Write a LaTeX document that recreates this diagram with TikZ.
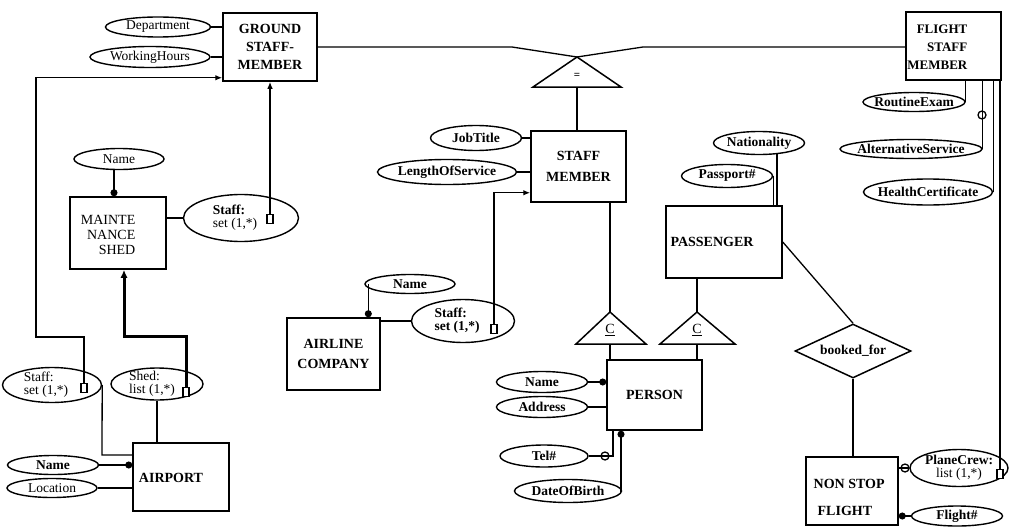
\documentclass[tikz,border=0pt]{standalone}
\usepackage{fontspec}
\setmainfont{Liberation Serif}
\usetikzlibrary{shapes.geometric,arrows.meta,calc}
\begin{document}
\begin{tikzpicture}[x=1pt,y=-1pt, line width=1.3pt,
  sz/.style 2 args={minimum width=#1pt, minimum height=#2pt},
  ent/.style={draw, line width=1.5pt, rectangle, inner sep=0pt, align=center,
    font=\fontsize{14}{18}\selectfont\bfseries},
  btxt/.style={inner sep=0pt, font=\fontsize{14}{18}\selectfont\bfseries},
  att/.style={draw, ellipse, line width=1.4pt, inner xsep=-15pt, inner ysep=-3pt,
    align=center, font=\fontsize{13.5}{13}\selectfont},
  attb/.style={att, font=\fontsize{13.5}{13}\selectfont\bfseries},
  sq/.style={draw, fill=white, rectangle, minimum width=6pt, minimum height=9pt,
    inner sep=0pt, line width=1.3pt},
  ocirc/.style={draw, circle, minimum size=8pt, inner sep=0pt, line width=1.3pt},
  arr/.style={-{Latex[length=7pt,width=5.5pt]}},
  thickarr/.style={line width=3pt, -{Latex[length=8pt,width=7pt]}},
  dotend/.style={-{Circle[length=7pt]}},
  tri/.style={line width=1.5pt, line join=miter}
]
\useasboundingbox (0,0) rectangle (1011,527);

% ---------- GROUND STAFF MEMBER ----------
\node[ent, sz={94}{68}] (gsm) at (270,47) {GROUND\\STAFF-\\MEMBER};
\node[att, sz={105}{20}] (dept) at (158,27) {Department};
\node[att, sz={120}{21}] (wh) at (150,57) {WorkingHours};
\draw (dept.east) -- (dept.east -| gsm.west);
\draw (wh.east) -- (wh.east -| gsm.west);

% ---------- MAINTENANCE SHED ----------
\node[ent, sz={96}{72}] (mshed) at (118,233) {};
\node[btxt, font=\fontsize{14}{15}\selectfont, align=right, anchor=east] (mshedt) at (136,235) {MAINTE\\NANCE\\SHED};
\node[att, sz={90}{21}] (mname) at (119,159) {Name};
\draw[dotend] ([xshift=-5pt]mname.south) -- ([xshift=-5pt]mname.south |- mshed.north);
\node[att, sz={115}{47}, align=left] (mstaff) at (241,218) {\textbf{Staff:}\\set (1,*)\hspace*{12pt}};
\node[sq] (mstaffsq) at (270,219) {};
\draw (mshed.east |- mstaff.west) -- (mstaff.west);
\draw[arr] (mstaffsq.north) -- (mstaffsq.north |- gsm.south);

% ---------- AIRPORT ----------
\node[ent, sz={96}{68}] (airport) at (181,477) {};
\node[btxt] (airportt) at (171,478) {AIRPORT};
\node[att, sz={99}{35}, align=left] (astaff) at (52,385) {Staff:\\set (1,*)\hspace*{12pt}};
\node[sq] (astaffsq) at (84,388) {};
\node[att, sz={92}{32}, align=left] (ashed) at (157,384) {Shed:\\list (1,*)\hspace*{10pt}};
\node[sq] (ashedsq) at (186,392) {};
\node[attb, sz={91}{19}] (aname) at (53,465) {Name};
\node[att, sz={90}{19}] (aloc) at (52,488) {Location};
\coordinate (b4) at (102,455);
\draw (astaff.east) -- (b4) -- (b4 -| airport.west);
\draw (ashed.south) -- (ashed.south |- airport.north);
\draw[dotend] (aname.east) -- (aname.east -| airport.west);
\draw (aloc.east) -- (aloc.east -| airport.west);

\coordinate (b1) at (36,337);
\draw[arr] (astaffsq.north) |- (b1) |- ($(gsm.south west)+(0,-4)$);
\coordinate (b3) at (124,336);
\draw[thickarr] (ashedsq.north) |- (b3) -- (b3 |- mshed.south);

% ---------- "=" triangle ----------
\coordinate (eqa) at (577,57);
\coordinate (eql) at (533,87);
\coordinate (eqr) at (621,87);
\coordinate (eqb) at (577,87);
\draw[tri] (eqa) -- (eql) -- (eqr) -- cycle;
\node[inner sep=0pt, font=\fontsize{11}{11}\selectfont\bfseries] (eqlab) at (577,76) {=};

% ---------- FLIGHT STAFF MEMBER ----------
\node[ent, sz={95}{68}] (fsm) at (953.5,46) {};
\node[btxt, font=\fontsize{13}{18}\selectfont\bfseries, align=right, anchor=east] (fsmt) at (968,47) {FLIGHT\\STAFF\\MEMBER};
\coordinate (b5) at (512,47);
\coordinate (b6) at (643,47);
\draw (gsm.east) -- (b5) -- (eqa) -- (b6) -- (b6 -| fsm.west);

% ---------- STAFF MEMBER ----------
\node[ent, sz={95}{71}, font=\fontsize{14}{21}\selectfont\bfseries] (sm) at (578.5,166.5) {STAFF\\MEMBER};
\draw (eqb) -- (eqb |- sm.north);
\node[attb, sz={91}{25}] (job) at (476,138) {JobTitle};
\node[attb, sz={139}{25}] (los) at (447,172) {LengthOfService};
\draw (job.east) -- (job.east -| sm.west);
\draw (los.east) -- (los.east -| sm.west);

% ---------- AIRLINE COMPANY ----------
\node[ent, sz={93}{72}, font=\fontsize{14}{20}\selectfont\bfseries] (airline) at (333.5,354) {AIRLINE\\COMPANY};
\node[attb, sz={90}{19}] (alname) at (410,284) {Name};
\node[attb, sz={103}{43}, align=left] (alstaff) at (463,321) {Staff:\\set (1,*)\hspace*{12pt}};
\node[sq] (alstaffsq) at (494,329) {};
\draw[dotend] ([xshift=4pt]alname.west) -- ([xshift=4pt]alname.west |- airline.north);
\draw (airline.east |- alstaff.west) -- (alstaff.west);
\draw[arr] (alstaffsq.north) |- ($(sm.south west)+(0,-10)$);

% ---------- subset triangles ----------
\coordinate (t1a) at (610,312);
\coordinate (t1l) at (576,344);
\coordinate (t1r) at (646,344);
\coordinate (t1b) at (610,344);
\draw[tri] (t1a) -- (t1l) -- (t1r) -- cycle;
\node[inner sep=0pt, font=\fontsize{14}{14}\selectfont] (t1lab) at (610,330) {\underline{C}};
\coordinate (t2a) at (697,312);
\coordinate (t2l) at (660,344);
\coordinate (t2r) at (735,344);
\coordinate (t2b) at (697,344);
\draw[tri] (t2a) -- (t2l) -- (t2r) -- cycle;
\node[inner sep=0pt, font=\fontsize{14}{14}\selectfont] (t2lab) at (697,330) {\underline{C}};

% ---------- PERSON ----------
\node[ent, sz={95}{70}] (person) at (654.5,395) {PERSON};
\draw (t1a |- sm.south) -- (t1a);
\draw (t1b) -- (t1b |- person.north);
\draw (t2b) -- (t2b |- person.north);
\node[attb, sz={91}{21}] (pname) at (542,382) {Name};
\node[attb, sz={91}{21}] (paddr) at (542,407) {Address};
\node[attb, sz={88}{22}] (ptel) at (544,456) {Tel\#};
\node[attb, sz={107}{23}] (pdob) at (568,491) {DateOfBirth};
\draw[dotend] (pname.east) -- (pname.east -| person.west);
\draw (paddr.east) -- (paddr.east -| person.west);
\coordinate (b8) at (613,456);
\draw (ptel.east) -- (b8) -- (b8 |- person.south);
\node[ocirc] (telc) at (605,456) {};
\coordinate (b9) at (621,491);
\draw[dotend] (pdob.east) -- (b9) -- (b9 |- person.south);

% ---------- PASSENGER ----------
\node[ent, sz={116}{72}] (pass) at (724,242) {};
\node[btxt] (passt) at (712,242) {PASSENGER};
\draw (t2a |- pass.south) -- (t2a);
\node[attb, sz={91}{23}] (nat) at (759,143) {Nationality};
\node[attb, sz={91}{23}] (ppt) at (727,176) {Passport\#};
\coordinate (b10) at (777,153.6);
\draw (b10) -- (b10 |- pass.north);
\draw (ppt.east) -- (ppt.east |- pass.north);

% ---------- booked_for ----------
\node[draw, diamond, aspect=2.15, line width=1.5pt, inner sep=0pt, sz={116}{54},
  font=\fontsize{13.5}{13}\selectfont\bfseries] (booked) at (853,351) {booked\_for};
\draw (pass.east) -- (booked.north);

% ---------- NON STOP FLIGHT ----------
\node[ent, sz={92}{68}] (nsf) at (852,491) {};
\node[btxt, font=\fontsize{14}{27}\selectfont\bfseries, align=left, anchor=west] (nsft) at (813,497) {NON STOP\\\hspace*{4pt}FLIGHT};
\draw (booked.south) -- (booked.south |- nsf.north);
\node[attb, sz={98}{37}] (crew) at (959,468) {PlaneCrew:\\\mdseries list (1,*)};
\node[sq] (crewsq) at (1000,474) {};
\node[attb, sz={91}{20}] (fno) at (957,516) {Flight\#};
\draw (crew.west) -- (crew.west -| nsf.east);
\node[ocirc] (crewc) at (905,468) {};
\draw[dotend] (fno.west) -- (fno.west -| nsf.east);
\draw (crewsq.north) -- (crewsq.north |- fsm.south);

% ---------- FLIGHT STAFF attributes ----------
\node[attb, sz={102}{19}] (rex) at (914,102) {RoutineExam};
\node[attb, sz={142}{19}] (alt) at (911,149) {AlternativeService};
\node[attb, sz={129}{26}] (hc) at (928,192) {HealthCertificate};
\draw (rex.east) -- (rex.east |- fsm.south);
\draw (alt.east) -- (alt.east |- fsm.south);
\node[ocirc] (altc) at (982,115) {};
\draw (hc.east) -- (hc.east |- fsm.south);
\end{tikzpicture}
\end{document}
